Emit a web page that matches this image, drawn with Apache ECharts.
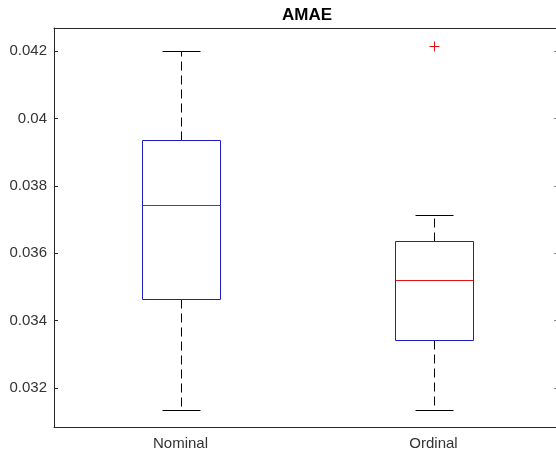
<!DOCTYPE html>
<html>
<head>
<meta charset="utf-8">
<script src="https://cdn.jsdelivr.net/npm/echarts@6/dist/echarts.min.js"></script>
<style>
  html, body { margin: 0; padding: 0; background: #fff; }
  #AMAE_div { width: 556px; height: 454px; }
</style>
</head>
<body>
<div id="AMAE_div"></div>
<script>
// box statistics
var categories = ['Nominal', 'Ordinal'];
var lowerWhisker = [0.03134, 0.03134];
var q1 = [0.03465, 0.03341];
var median = [0.03744, 0.03521];
var q3 = [0.03936, 0.03637];
var upperWhisker = [0.04200, 0.03714];
// outliers: [category index, value]
var outliers = [[1, 0.04216]];
var yTicks = [0.032, 0.034, 0.036, 0.038, 0.04, 0.042];
var yMin = 0.03084;
var yMax = 0.04269;

var boxData = categories.map(function (c, i) {
  return [i, lowerWhisker[i], q1[i], median[i], q3[i], upperWhisker[i]];
});

function snap(v) {
  return Math.round(v) + 0.5;
}

function renderBox(params, api) {
  var i = api.value(0);
  var cx = snap(api.coord([i, 0])[0]);
  var yLow = snap(api.coord([i, api.value(1)])[1]);
  var yQ1 = snap(api.coord([i, api.value(2)])[1]);
  var yMed = snap(api.coord([i, api.value(3)])[1]);
  var yQ3 = snap(api.coord([i, api.value(4)])[1]);
  var yHigh = snap(api.coord([i, api.value(5)])[1]);
  var band = api.size([1, 0])[0];
  var bw = Math.round(band * 0.153);
  var cw = Math.round(band * 0.076);
  var dash = { stroke: '#000', lineWidth: 1, lineDash: [9, 5], fill: null };
  var solid = { stroke: '#000', lineWidth: 1, fill: null };
  return {
    type: 'group',
    children: [
      { type: 'line', shape: { x1: cx, y1: yQ3, x2: cx, y2: yHigh }, style: dash },
      { type: 'line', shape: { x1: cx, y1: yQ1, x2: cx, y2: yLow }, style: dash },
      { type: 'line', shape: { x1: cx - cw, y1: yHigh, x2: cx + cw, y2: yHigh }, style: solid },
      { type: 'line', shape: { x1: cx - cw, y1: yLow, x2: cx + cw, y2: yLow }, style: solid },
      { type: 'rect', shape: { x: cx - bw, y: yQ3, width: 2 * bw, height: yQ1 - yQ3 },
        style: { stroke: '#1f1fc8', lineWidth: 1, fill: null } },
      { type: 'line', shape: { x1: cx - bw, y1: yMed, x2: cx + bw, y2: yMed },
        style: { stroke: '#e01010', lineWidth: 1 } }
    ]
  };
}

function renderOutlier(params, api) {
  var p = api.coord([api.value(0), api.value(1)]);
  var x = snap(p[0]), y = snap(p[1]);
  var s = { stroke: '#e01010', lineWidth: 1 };
  return {
    type: 'group',
    children: [
      { type: 'line', shape: { x1: x - 5, y1: y, x2: x + 5, y2: y }, style: s },
      { type: 'line', shape: { x1: x, y1: y - 5, x2: x, y2: y + 5 }, style: s }
    ]
  };
}

var axisColor = '#262626';
var labelFont = { fontFamily: 'Liberation Sans', fontSize: 15, color: '#333' };

var myChart = echarts.init(document.getElementById('AMAE_div'));
myChart.setOption({
  animation: false,
  title: {
    text: 'AMAE',
    left: 302,
    top: 2,
    textAlign: 'center',
    textStyle: { fontFamily: 'Liberation Sans', fontSize: 17, fontWeight: 'bold', color: '#000' }
  },
  // plot box runs past the right edge of the picture
  grid: { left: 54, right: -4, top: 28, bottom: 27, outerBoundsMode: 'none', containLabel: false },
  xAxis: [
    {
      type: 'category',
      data: categories,
      boundaryGap: true,
      axisLine: { lineStyle: { color: axisColor, width: 1 } },
      axisTick: { alignWithLabel: true, inside: true, length: 4, lineStyle: { color: axisColor } },
      axisLabel: Object.assign({ margin: 9 }, labelFont),
      splitLine: { show: false }
    },
    {
      type: 'category',
      position: 'top',
      data: categories,
      boundaryGap: true,
      axisLine: { lineStyle: { color: axisColor, width: 1 } },
      axisTick: { alignWithLabel: true, inside: true, length: 4, lineStyle: { color: axisColor } },
      axisLabel: { show: false },
      splitLine: { show: false }
    }
  ],
  yAxis: [
    {
      type: 'value',
      min: yMin,
      max: yMax,
      axisLine: { show: true, lineStyle: { color: axisColor, width: 1 } },
      axisTick: { show: true, inside: true, length: 4, customValues: yTicks, lineStyle: { color: axisColor } },
      axisLabel: Object.assign({ margin: 7, customValues: yTicks }, labelFont),
      splitLine: { show: false }
    },
    {
      type: 'value',
      position: 'right',
      min: yMin,
      max: yMax,
      axisLine: { show: true, lineStyle: { color: axisColor, width: 1 } },
      axisTick: { show: true, inside: true, length: 6, customValues: yTicks, lineStyle: { color: '#888' } },
      axisLabel: { show: false },
      splitLine: { show: false }
    }
  ],
  series: [
    {
      name: 'box',
      type: 'custom',
      renderItem: renderBox,
      encode: { x: 0, y: [1, 2, 3, 4, 5] },
      data: boxData
    },
    {
      name: 'outlier',
      type: 'custom',
      renderItem: renderOutlier,
      encode: { x: 0, y: 1 },
      data: outliers
    }
  ]
});
</script>
</body>
</html>
